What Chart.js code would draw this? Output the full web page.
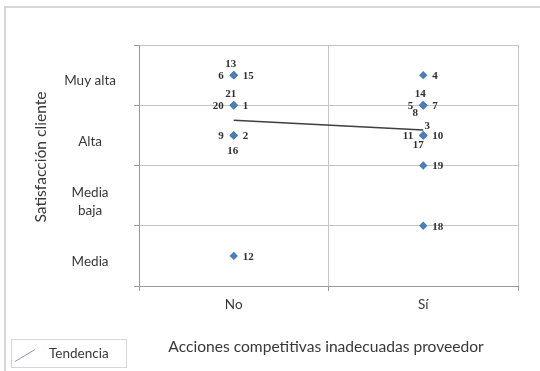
<!DOCTYPE html>
<html>
<head>
<meta charset="utf-8">
<script src="https://cdn.jsdelivr.net/npm/chart.js@4/dist/chart.umd.min.js"></script>
<style>
  html, body { margin: 0; padding: 0; background: #ffffff; }
  #wrap { width: 540px; height: 371px; position: relative; }
</style>
</head>
<body>
<div id="wrap"><canvas id="c" width="540" height="371"></canvas></div>
<script>
// Survey responses: one point per client
const pointIds = [1, 2, 3, 4, 5, 6, 7, 8, 9, 10, 11, 12, 13, 14, 15, 16, 17, 18, 19, 20, 21];
const proveedor = ['No', 'No', 'Sí', 'Sí', 'Sí', 'No', 'Sí', 'Sí', 'No', 'Sí', 'Sí',
                   'No', 'No', 'Sí', 'No', 'No', 'Sí', 'Sí', 'Sí', 'No', 'No'];
const satisfaccion = [3.5, 3, 3, 4, 3.5, 4, 3.5, 3.5, 3, 3, 3,
                      1, 4, 3.5, 4, 3, 3, 1.5, 2.5, 3.5, 3.5];

// Axis categories
const xCategories = ['No', 'Sí'];
const yLevels = ['Media', ['Media', 'baja'], 'Alta', 'Muy alta'];

// Where each id label sits around its marker
const labelSide = ['r', 'r', 'tr', 'r', 'l', 'l', 'r', 'bl', 'l', 'r', 'l',
                   'r', 't', 't', 'r', 'b2', 'b', 'r', 'r', 'l', 't'];

const points = pointIds.map((id, i) => ({
  x: xCategories.indexOf(proveedor[i]) + 1,
  y: satisfaccion[i]
}));

// Least-squares trend over all responses
function trendLine(pts) {
  const n = pts.length;
  const mx = pts.reduce((s, p) => s + p.x, 0) / n;
  const my = pts.reduce((s, p) => s + p.y, 0) / n;
  let sxy = 0, sxx = 0;
  pts.forEach(p => { sxy += (p.x - mx) * (p.y - my); sxx += (p.x - mx) * (p.x - mx); });
  const b = sxy / sxx, a = my - b * mx;
  return [1, 2].map(x => ({ x: x, y: a + b * x }));
}

const TEXT = '#383838';
const GRID = '#c4c4c4';
const AXIS = '#9a9a9a';
const SANS = 'Lato, "Open Sans", sans-serif';

const isHalf = v => Math.abs((v % 1) - 0.5) < 1e-6;

const decorations = {
  id: 'decorations',
  beforeDraw(chart) {
    const ctx = chart.ctx;
    ctx.save();
    ctx.fillStyle = '#ffffff';
    ctx.fillRect(0, 0, chart.width, chart.height);
    // outer frame
    ctx.strokeStyle = '#d6d6d6';
    ctx.lineWidth = 2;
    ctx.beginPath();
    ctx.moveTo(5, chart.height);
    ctx.lineTo(5, 7);
    ctx.lineTo(chart.width, 7);
    ctx.stroke();
    ctx.restore();
  },
  afterDraw(chart) {
    const ctx = chart.ctx;
    ctx.save();
    // axis titles
    ctx.fillStyle = TEXT;
    ctx.font = '15.6px ' + SANS;
    ctx.textAlign = 'center';
    ctx.textBaseline = 'middle';
    ctx.fillText('Acciones competitivas inadecuadas proveedor', 326, 347);
    ctx.save();
    ctx.translate(41, 157);
    ctx.rotate(-Math.PI / 2);
    ctx.fillText('Satisfacción cliente', 0, 0);
    ctx.restore();

    // legend
    ctx.strokeStyle = '#d6d6d6';
    ctx.lineWidth = 1;
    ctx.strokeRect(11.5, 339.5, 115, 28);
    ctx.strokeStyle = '#8497b0';
    ctx.beginPath();
    ctx.moveTo(15, 361.5);
    ctx.lineTo(35, 349.5);
    ctx.stroke();
    ctx.fillStyle = TEXT;
    ctx.font = '13.5px ' + SANS;
    ctx.textAlign = 'left';
    ctx.fillText('Tendencia', 49, 354);
    ctx.restore();
  },
  afterDatasetsDraw(chart) {
    const ctx = chart.ctx;
    const meta = chart.getDatasetMeta(1);
    ctx.save();
    ctx.fillStyle = '#303030';
    ctx.font = 'bold 11px "Liberation Serif", "DejaVu Serif", serif';
    ctx.textBaseline = 'middle';
    meta.data.forEach((el, i) => {
      const side = labelSide[i];
      let x = el.x, y = el.y, align = 'center';
      if (side === 'r') { x += 9; y += 1; align = 'left'; }
      else if (side === 'l') { x -= 10; y += 1; align = 'right'; }
      else if (side === 't') { x -= 3; y -= 11; }
      else if (side === 'b') { x -= 5; y += 10; }
      else if (side === 'b2') { x -= 1; y += 16; }
      else if (side === 'tr') { x += 4; y -= 9; }
      else if (side === 'bl') { x -= 8; y += 8; }
      ctx.textAlign = align;
      ctx.fillText(String(pointIds[i]), x, y);
    });
    ctx.restore();
  }
};

new Chart(document.getElementById('c'), {
  type: 'scatter',
  data: {
    datasets: [
      {
        type: 'line',
        label: 'Tendencia',
        data: trendLine(points),
        borderColor: '#3f3f3f',
        borderWidth: 1.5,
        pointRadius: 0,
        fill: false
      },
      {
        label: 'Satisfacción',
        data: points,
        pointStyle: 'rectRot',
        pointRadius: 4.2,
        backgroundColor: '#4a7ebb',
        borderColor: '#4a7ebb',
        borderWidth: 0
      }
    ]
  },
  options: {
    responsive: false,
    devicePixelRatio: 1,
    animation: false,
    events: [],
    layout: { padding: { left: 60, right: 22, top: 45, bottom: 0 } },
    plugins: { legend: { display: false }, tooltip: { enabled: false } },
    scales: {
      x: {
        type: 'linear',
        min: 0.5,
        max: 2.5,
        afterFit(scale) { scale.height = 85; },
        afterBuildTicks(scale) {
          scale.ticks = [0.5, 1, 1.5, 2, 2.5].map(v => ({ value: v }));
        },
        ticks: {
          autoSkip: false,
          maxRotation: 0,
          padding: 6,
          color: TEXT,
          font: { family: SANS, size: 13.5 },
          callback: v => (Number.isInteger(v) ? xCategories[v - 1] : '')
        },
        grid: {
          color: c => (c.tick && isHalf(c.tick.value) ? GRID : 'rgba(0,0,0,0)'),
          tickColor: c => (c.tick && isHalf(c.tick.value) ? AXIS : 'rgba(0,0,0,0)'),
          tickLength: 5
        },
        border: { color: AXIS }
      },
      y: {
        type: 'linear',
        min: 0.5,
        max: 4.5,
        afterFit(scale) { scale.width = 79; },
        afterBuildTicks(scale) {
          scale.ticks = [0.5, 1, 1.5, 2, 2.5, 3, 3.5, 4, 4.5].map(v => ({ value: v }));
        },
        ticks: {
          autoSkip: false,
          padding: 18,
          labelOffset: 6,
          crossAlign: 'center',
          color: TEXT,
          font: { family: SANS, size: 13.5, lineHeight: 1.35 },
          callback: v => (Number.isInteger(v) ? yLevels[v - 1] : '')
        },
        grid: {
          color: c => (c.tick && isHalf(c.tick.value) ? GRID : 'rgba(0,0,0,0)'),
          tickColor: c => (c.tick && isHalf(c.tick.value) ? AXIS : 'rgba(0,0,0,0)'),
          tickLength: 5
        },
        border: { color: AXIS }
      }
    }
  },
  plugins: [decorations]
});
</script>
</body>
</html>
